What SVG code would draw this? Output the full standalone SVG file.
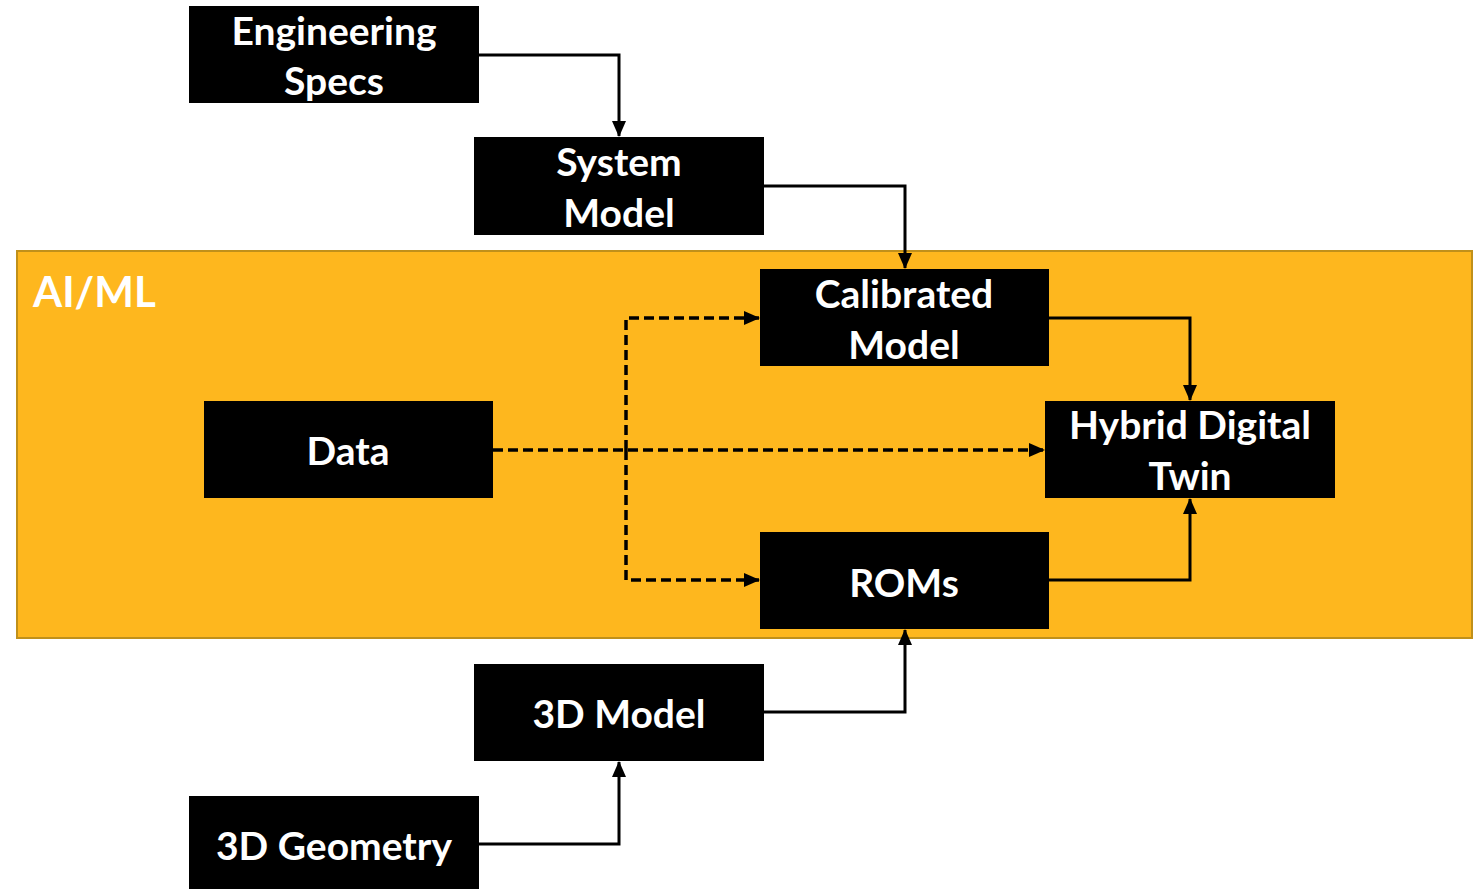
<svg xmlns="http://www.w3.org/2000/svg" width="1481" height="889" viewBox="0 0 1481 889">
  <style>
    .box { fill: #000000; }
    .lbl { fill: #ffffff; font-family: Lato, "Liberation Sans", sans-serif; font-weight: bold; font-size: 39px; text-anchor: middle; }
    .wire { fill: none; stroke: #000000; stroke-width: 3; }
    .dash { fill: none; stroke: #000000; stroke-width: 3.5; stroke-dasharray: 10 5; }
  </style>
  <defs>
    <marker id="arrow" viewBox="0 0 16 16" refX="15" refY="8" markerWidth="16" markerHeight="16" markerUnits="userSpaceOnUse" orient="auto">
      <path d="M0,1 L16,8 L0,15 Z" fill="#000000"/>
    </marker>
  </defs>

  <rect width="1481" height="889" fill="#ffffff"/>

  <!-- AI/ML region -->
  <g id="aiml">
    <rect x="17" y="251" width="1455" height="387" fill="#FEB71E" stroke="#C0901A" stroke-width="2"/>
    <text x="33" y="307" style="fill:#ffffff;font-family:Lato,'Liberation Sans',sans-serif;font-weight:bold;font-size:42px">AI/ML</text>
  </g>

  <!-- connectors -->
  <g id="connectors">
    <polyline class="wire" points="479,55 619,55 619,136" marker-end="url(#arrow)"/>
    <polyline class="wire" points="764,186 905,186 905,268" marker-end="url(#arrow)"/>
    <polyline class="wire" points="1049,318 1190,318 1190,400" marker-end="url(#arrow)"/>
    <polyline class="wire" points="1049,580 1190,580 1190,499" marker-end="url(#arrow)"/>
    <polyline class="wire" points="764,712 905,712 905,630" marker-end="url(#arrow)"/>
    <polyline class="wire" points="479,844 619,844 619,762" marker-end="url(#arrow)"/>
    <polyline class="dash" points="493,450 1044,450" marker-end="url(#arrow)"/>
    <polyline class="dash" points="626,450 626,318 759,318" marker-end="url(#arrow)"/>
    <polyline class="dash" points="626,450 626,580 759,580" marker-end="url(#arrow)"/>
  </g>

  <g id="engineering-specs">
    <rect class="box" x="189" y="6" width="290" height="97"/>
    <text class="lbl" x="334" y="45">Engineering</text>
    <text class="lbl" x="334" y="95">Specs</text>
  </g>

  <g id="system-model">
    <rect class="box" x="474" y="137" width="290" height="98"/>
    <text class="lbl" x="619" y="176">System</text>
    <text class="lbl" x="619" y="227">Model</text>
  </g>

  <g id="calibrated-model">
    <rect class="box" x="760" y="269" width="289" height="97"/>
    <text class="lbl" x="904" y="308">Calibrated</text>
    <text class="lbl" x="904" y="359">Model</text>
  </g>

  <g id="data">
    <rect class="box" x="204" y="401" width="289" height="97"/>
    <text class="lbl" x="348" y="465">Data</text>
  </g>

  <g id="hybrid-digital-twin">
    <rect class="box" x="1045" y="401" width="290" height="97"/>
    <text class="lbl" x="1190" y="439">Hybrid Digital</text>
    <text class="lbl" x="1190" y="490">Twin</text>
  </g>

  <g id="roms">
    <rect class="box" x="760" y="532" width="289" height="97"/>
    <text class="lbl" x="904" y="597">ROMs</text>
  </g>

  <g id="model-3d">
    <rect class="box" x="474" y="664" width="290" height="97"/>
    <text class="lbl" x="619" y="728">3D Model</text>
  </g>

  <g id="geometry-3d">
    <rect class="box" x="189" y="796" width="290" height="93"/>
    <text class="lbl" x="334" y="860">3D Geometry</text>
  </g>
</svg>
